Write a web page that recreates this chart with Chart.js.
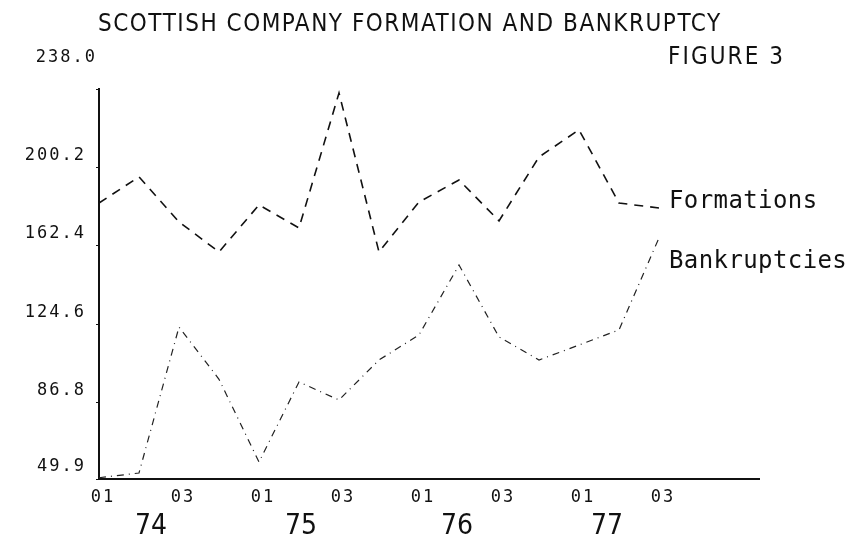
<!DOCTYPE html>
<html>
<head>
<meta charset="utf-8">
<script src="https://cdn.jsdelivr.net/npm/chart.js@4/dist/chart.umd.min.js"></script>
<style>
  html, body { margin: 0; padding: 0; background: #fff; }
  #wrap { width: 850px; height: 540px; position: relative; }
</style>
</head>
<body>
<div id="wrap"><canvas id="c" width="850" height="540"></canvas></div>
<script>
// ---- data ----
const quarters = ['74Q1','74Q2','74Q3','74Q4','75Q1','75Q2','75Q3','75Q4',
                  '76Q1','76Q2','76Q3','76Q4','77Q1','77Q2','77Q3'];
const formations   = [183.0, 195.6, 173.9, 159.4, 182.1, 171.0, 236.1, 159.4,
                      183.5, 194.1, 174.4, 205.2, 218.3, 183.0, 180.6];
const bankruptcies = [50.5, 52.8, 123.2, 98.0, 58.1, 96.7, 88.0, 107.3,
                      119.4, 153.1, 118.4, 107.3, 114.5, 121.8, 166.2];
const yTickValues = [49.9, 86.8, 124.6, 162.4, 200.2, 238.0];
const yTickLabels = ['49.9', '86.8', '124.6', '162.4', '200.2', '238.0'];
const xTickValues = [0, 2, 4, 6, 8, 10, 12, 14];
const xTickLabels = ['01', '03', '01', '03', '01', '03', '01', '03'];
const years = ['74', '75', '76', '77'];
const yearPositions = [1.3, 5.05, 8.95, 12.7];
const titleText = 'SCOTTISH COMPANY FORMATION AND BANKRUPTCY';
const figureText = 'FIGURE 3';
const seriesNames = ['Formations', 'Bankruptcies'];

const MONO = '"DejaVu Sans Mono", "Liberation Mono", monospace';
const NARROW = '"Liberation Sans Narrow", "DejaVu Sans Condensed", sans-serif';
const INK = '#111';

function fitText(ctx, text, x0, x1, y) {
  ctx.letterSpacing = '0px';
  const w = ctx.measureText(text).width;
  const sp = (x1 - x0 - w) / (text.length - 1);
  ctx.letterSpacing = sp.toFixed(2) + 'px';
  ctx.textAlign = 'left';
  ctx.fillText(text, x0, y);
}

const textPlugin = {
  id: 'textPlugin',
  beforeDraw(chart) {
    chart.ctx.letterSpacing = '2px';
  },
  afterDraw(chart) {
    const ctx = chart.ctx;
    const xs = chart.scales.x, ys = chart.scales.y;
    ctx.save();
    ctx.fillStyle = INK;
    ctx.textBaseline = 'middle';
    // title
    ctx.font = '24px ' + NARROW;
    fitText(ctx, titleText, 98, 720, 25);
    // figure label
    fitText(ctx, figureText, 668, 783, 58);
    // top y label
    ctx.letterSpacing = '2px';
    ctx.textAlign = 'right';
    ctx.font = '17px ' + MONO;
    ctx.fillText(yTickLabels[yTickLabels.length - 1], 97, 58);
    // series labels
    ctx.letterSpacing = '0.4px';
    ctx.font = '24px ' + MONO;
    ctx.textAlign = 'left';
    const last = formations.length - 1;
    ctx.fillText(seriesNames[0], xs.getPixelForValue(last) + 10, ys.getPixelForValue(formations[last]) - 6);
    ctx.fillText(seriesNames[1], xs.getPixelForValue(last) + 10, ys.getPixelForValue(bankruptcies[last]) + 24);
    // years
    ctx.letterSpacing = '0px';
    ctx.font = '28px ' + NARROW;
    ctx.textAlign = 'center';
    years.forEach((y, i) => ctx.fillText(y, xs.getPixelForValue(yearPositions[i]), 527));
    ctx.restore();
  }
};

new Chart(document.getElementById('c'), {
  type: 'line',
  data: {
    datasets: [
      {
        label: seriesNames[0],
        data: formations.map((v, i) => ({ x: i, y: v })),
        borderColor: INK,
        borderWidth: 1.6,
        borderDash: [9, 7],
        pointRadius: 0,
        tension: 0,
        fill: false
      },
      {
        label: seriesNames[1],
        data: bankruptcies.map((v, i) => ({ x: i, y: v })),
        borderColor: '#222',
        borderWidth: 1.2,
        borderDash: [7, 5, 1, 5],
        pointRadius: 0,
        tension: 0,
        fill: false
      }
    ]
  },
  options: {
    responsive: false,
    animation: false,
    layout: { padding: { left: 0, right: 91, top: 89, bottom: 0 } },
    plugins: { legend: { display: false }, title: { display: false }, tooltip: { enabled: false } },
    scales: {
      x: {
        type: 'linear',
        min: 0,
        max: 16.5,
        afterBuildTicks(scale) { scale.ticks = xTickValues.map(v => ({ value: v })); },
        afterFit(scale) { scale.height = 61; },
        grid: { display: false },
        border: { display: true, color: INK, width: 2 },
        ticks: {
          autoSkip: false,
          maxRotation: 0,
          padding: 0,
          labelOffset: 4,
          color: INK,
          font: { family: MONO, size: 17 },
          callback(value, index) { return xTickLabels[index]; }
        }
      },
      y: {
        type: 'linear',
        min: 49.9,
        max: 238.0,
        afterBuildTicks(scale) { scale.ticks = yTickValues.map(v => ({ value: v })); },
        afterFit(scale) { scale.width = 99; },
        grid: { display: true, drawOnChartArea: false, drawTicks: true, tickLength: 3, color: INK, lineWidth: 1 },
        border: { display: true, color: INK, width: 2 },
        ticks: {
          autoSkip: false,
          padding: 10,
          labelOffset: -12,
          color: INK,
          font: { family: MONO, size: 17 },
          callback(value, index) { return index === yTickValues.length - 1 ? '' : yTickLabels[index]; }
        }
      }
    }
  },
  plugins: [textPlugin]
});
</script>
</body>
</html>
